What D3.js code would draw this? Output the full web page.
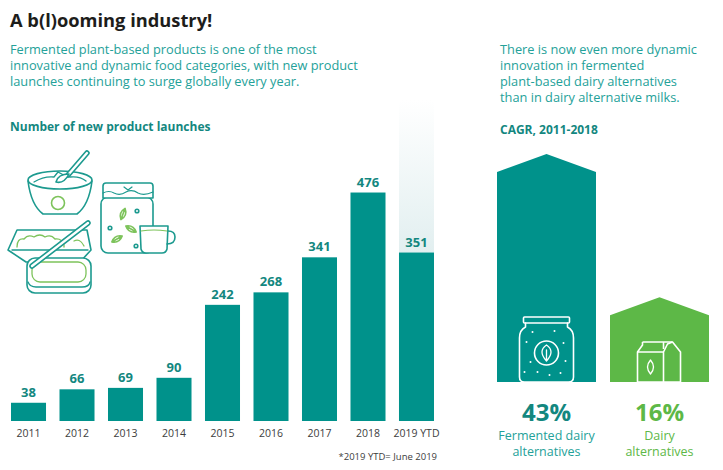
<!DOCTYPE html>
<html>
<head>
<meta charset="utf-8">
<script src="https://cdn.jsdelivr.net/npm/d3@7"></script>
<style>
  html, body { margin: 0; padding: 0; background: #fff; }
  svg { display: block; font-family: "Open Sans", sans-serif; }
</style>
</head>
<body>
<script>
// launches per year
const years = ["2011", "2012", "2013", "2014", "2015", "2016", "2017", "2018", "2019 YTD"];
const launches = [38, 66, 69, 90, 242, 268, 341, 476, 351];

// CAGR 2011-2018
const cagrLabels = [["Fermented dairy", "alternatives"], ["Dairy", "alternatives"]];
const cagrValues = [43, 16];

const introLines = [
    "Fermented plant-based products is one of the most",
    "innovative and dynamic food categories, with new product",
    "launches continuing to surge globally every year."
];
const sideLines = [
    "There is now even more dynamic",
    "innovation in fermented",
    "plant-based dairy alternatives",
    "than in dairy alternative milks."
];

const teal = "#00928b", tealText = "#24a199", tealDark = "#13877f";
const green = "#5db847", icon = "#1c9a8f", iconGreen = "#7dc35b";

const W = 723, H = 470;
let svg = d3.select("body").append("svg").attr("width", W).attr("height", H);

// headings
svg.append("text").attr("x", 10).attr("y", 27)
    .attr("font-size", 18.3).attr("font-weight", 700).attr("fill", "#1d1d1b")
    .text("A b(l)ooming industry!");

svg.append("g").selectAll("text")
    .data(introLines)
    .join("text")
      .attr("x", 10)
      .attr("y", (d, i) => 54 + i * 16)
      .attr("font-size", 12.8)
      .attr("fill", tealText)
      .text(d => d);

svg.append("text").attr("x", 10).attr("y", 131)
    .attr("font-size", 12).attr("font-weight", 700).attr("fill", tealDark)
    .text("Number of new product launches");

// ---- bar chart ----
let x = d3.scaleBand().domain(years).range([11, 434]).paddingInner(0.278).paddingOuter(0);
let y = d3.scaleLinear([0, 500], [421, 181]);

let defs = svg.append("defs");
let grad = defs.append("linearGradient").attr("id", "ytd").attr("x1", 0).attr("x2", 0).attr("y1", 0).attr("y2", 1);
grad.append("stop").attr("offset", "0%").attr("stop-color", "#ffffff");
grad.append("stop").attr("offset", "100%").attr("stop-color", "#e2eff0");

// ghost column behind the partial year
let last = years[years.length - 1];
svg.append("rect")
    .attr("x", x(last))
    .attr("width", x.bandwidth())
    .attr("y", 100)
    .attr("height", y(launches[launches.length - 1]) - 100)
    .attr("fill", "url(#ytd)");

svg.append("g")
    .attr("fill", teal)
  .selectAll("rect")
  .data(launches)
  .join("rect")
    .attr("x", (d, i) => x(years[i]))
    .attr("width", x.bandwidth())
    .attr("y", d => y(d))
    .attr("height", d => y(0) - y(d));

svg.append("g")
    .attr("font-size", 13).attr("font-weight", 700).attr("fill", tealDark)
    .attr("text-anchor", "middle")
  .selectAll("text")
  .data(launches)
  .join("text")
    .attr("x", (d, i) => x(years[i]) + x.bandwidth() / 2)
    .attr("y", d => y(d) - 6)
    .text(d => d);

let xAxis = svg.append("g")
    .attr("transform", `translate(0,${y(0)})`)
    .call(d3.axisBottom(x).tickSize(0).tickPadding(9));
xAxis.select(".domain").remove();
xAxis.selectAll("text").attr("font-size", 10.5).attr("fill", "#3d3d3d")
    .attr("font-family", "Open Sans, sans-serif");

svg.append("text").attr("x", 437).attr("y", 460)
    .attr("text-anchor", "end").attr("font-size", 9.5).attr("fill", "#3d3d3d")
    .text("*2019 YTD= June 2019");

// ---- food icons ----
let ic = svg.append("g").attr("fill", "none").attr("stroke", icon)
    .attr("stroke-width", 1.6).attr("stroke-linejoin", "round").attr("stroke-linecap", "round");

function thickLine(g, x1, y1, x2, y2, w) {
    g.append("line").attr("x1", x1).attr("y1", y1).attr("x2", x2).attr("y2", y2)
        .attr("stroke-width", w);
    g.append("line").attr("x1", x1).attr("y1", y1).attr("x2", x2).attr("y2", y2)
        .attr("stroke", "#fff").attr("stroke-width", w - 3.2);
}

// bowl
ic.append("path").attr("d", "M28,181 Q31,205 43,214 L77,214 Q89,205 92,181");
ic.append("ellipse").attr("cx", 60).attr("cy", 180).attr("rx", 32).attr("ry", 9).attr("fill", "#fff");
ic.append("path").attr("d", "M34,182 Q44,176 54,177 L58,172 Q64,176 70,177 Q80,176 86,181").attr("stroke-width", 1.3);
ic.append("circle").attr("cx", 58).attr("cy", 203).attr("r", 6.5).attr("stroke", iconGreen);
thickLine(ic, 87, 153, 68, 175, 5.5);
ic.append("path").attr("d", "M69,174 Q64,184 56,182 Q58,174 69,174 Z").attr("fill", "#fff");

// jar
ic.append("rect").attr("x", 101).attr("y", 197).attr("width", 52).attr("height", 56).attr("rx", 7).attr("fill", "#fff");
ic.append("path").attr("d", "M103,186 Q103,183 106,183 L150,183 Q153,183 153,186 L153,198 L103,198 Z").attr("fill", "#fff");
ic.append("path").attr("d", "M103,193 Q109,190 114,193 Q120,196 126,192 Q132,189 138,193 Q144,196 153,192").attr("stroke-width", 1.2);
ic.append("path").attr("d", "M124,187 L128,190 L132,187").attr("stroke-width", 1.2);
ic.append("g").attr("stroke", iconGreen).selectAll("path")
    .data([[123, 214, -70], [131, 229, 30], [117, 239, -30]])
    .join("path")
      .attr("d", "M-6,0 Q0,-5 6,0 Q0,5 -6,0 Z M-5,0 L5,0")
      .attr("transform", d => `translate(${d[0]},${d[1]}) rotate(${d[2]})`);
ic.append("g").selectAll("circle")
    .data([[137, 211], [110, 228], [136, 246]])
    .join("circle").attr("cx", d => d[0]).attr("cy", d => d[1]).attr("r", 1.8);

// cup
ic.append("path").attr("d", "M140,226 L141,249 Q142,253 146,253 L162,253 Q166,253 167,249 L168,226 Z").attr("fill", "#fff");
ic.append("path").attr("d", "M168,231 Q175,231 175,237 Q175,244 167,244");
ic.append("path").attr("d", "M141,231 Q154,229 167,231").attr("stroke", iconGreen).attr("stroke-width", 1.2);

// tray
ic.append("path").attr("d", "M17,230 L87,230 L91,250 L80,262 L26,262 L8,250 Z").attr("fill", "#fff");
ic.append("path").attr("d", "M12,250 L88,250").attr("stroke-width", 1.3);
ic.append("path").attr("d", "M17,247 Q17,238 24,239 Q28,234 34,237 Q40,233 45,237 Q51,234 55,239 Q62,238 64,245 L64,247")
    .attr("stroke", iconGreen).attr("stroke-width", 1.3);
ic.append("path").attr("d", "M74,241 Q80,238 84,246").attr("stroke", iconGreen).attr("stroke-width", 1.3);

// butter box
ic.append("rect").attr("x", 27).attr("y", 258).attr("width", 64).attr("height", 35).attr("rx", 8).attr("fill", "#fff");
ic.append("path").attr("d", "M28,282 Q30,287 36,287 L82,287 Q89,287 90,282").attr("stroke-width", 1.3);
ic.append("rect").attr("x", 32).attr("y", 262).attr("width", 54).attr("height", 20).attr("rx", 8).attr("stroke", iconGreen).attr("stroke-width", 1.3);
thickLine(ic, 88, 223, 32, 266, 5.5);

// ---- CAGR comparison ----
svg.append("g").selectAll("text")
    .data(sideLines)
    .join("text")
      .attr("x", 500)
      .attr("y", (d, i) => 54 + i * 16)
      .attr("font-size", 12.8)
      .attr("fill", tealText)
      .text(d => d);

svg.append("text").attr("x", 500).attr("y", 134)
    .attr("font-size", 12).attr("font-weight", 700).attr("fill", tealDark)
    .text("CAGR, 2011-2018");

let xc = d3.scaleBand().domain(cagrValues.map((d, i) => i)).range([497, 709]).paddingInner(0.124).paddingOuter(0);
let yc = d3.scaleLinear([0, 43], [382, 154]);
const roof = 18;
const cagrColors = [teal, green];

svg.append("g").selectAll("path")
    .data(cagrValues)
    .join("path")
      .attr("fill", (d, i) => cagrColors[i])
      .attr("d", (d, i) => {
          let x0 = xc(i), x1 = xc(i) + xc.bandwidth(), top = yc(d);
          return `M${x0},${yc(0)} L${x0},${top + roof} L${(x0 + x1) / 2},${top} L${x1},${top + roof} L${x1},${yc(0)} Z`;
      });

// jar icon (white)
let wj = svg.append("g").attr("fill", "none").attr("stroke", "#fff").attr("stroke-width", 1.6)
    .attr("stroke-linejoin", "round").attr("stroke-linecap", "round");
let cx0 = xc(0) + xc.bandwidth() / 2;
wj.append("rect").attr("x", cx0 - 23).attr("y", 317).attr("width", 46).attr("height", 6).attr("rx", 1);
wj.append("path").attr("d", `M${cx0 - 21},323 L${cx0 - 21},327 Q${cx0 - 27},330 ${cx0 - 27},338 L${cx0 - 27},377 Q${cx0 - 27},382 ${cx0 - 22},382 L${cx0 + 22},382 Q${cx0 + 27},382 ${cx0 + 27},377 L${cx0 + 27},338 Q${cx0 + 27},330 ${cx0 + 21},327 L${cx0 + 21},323`);
wj.append("circle").attr("cx", cx0).attr("cy", 353).attr("r", 12);
wj.append("path").attr("d", `M${cx0},345 Q${cx0 + 9},351 ${cx0},361 Q${cx0 - 9},351 ${cx0},345 Z M${cx0},350 L${cx0},361`).attr("stroke-width", 1.3);
wj.append("g").attr("fill", "#fff").attr("stroke", "none").selectAll("circle")
    .data([[-14, 332], [8, 331], [-20, 342], [17, 343], [-16, 362], [19, 361], [-9, 372], [3, 375], [14, 373], [-22, 372]])
    .join("circle").attr("cx", d => cx0 + d[0]).attr("cy", d => d[1]).attr("r", 1);

// carton icon (white)
let cx1 = xc(1) + xc.bandwidth() / 2;
let wc = svg.append("g").attr("fill", "none").attr("stroke", "#fff").attr("stroke-width", 1.6)
    .attr("stroke-linejoin", "round");
let c0 = cx1 - 22;
wc.append("path").attr("d", `M${c0 + 5},342 L${c0 + 26},342 L${c0 + 26},349 M${c0 + 5},342 L${c0 + 5},345 L${c0},352 L${c0},382 L${c0 + 43},382 L${c0 + 43},352 L${c0 + 35},342 L${c0 + 26},342`);
wc.append("path").attr("d", `M${c0},352 L${c0 + 26},352 L${c0 + 26},382 M${c0 + 26},352 L${c0 + 30},344 L${c0 + 35},342`);
wc.append("path").attr("d", `M${c0 + 13},360 Q${c0 + 19},367 ${c0 + 13},374 Q${c0 + 7},367 ${c0 + 13},360 Z`).attr("stroke-width", 1.3);

// big percentages and captions
let cap = svg.append("g").attr("text-anchor", "middle");
cap.selectAll("text.pct")
    .data(cagrValues)
    .join("text")
      .attr("class", "pct")
      .attr("x", (d, i) => xc(i) + xc.bandwidth() / 2)
      .attr("y", 421)
      .attr("font-size", 24).attr("font-weight", 700)
      .attr("fill", (d, i) => i ? green : tealDark)
      .text(d => d + "%");
cagrLabels.forEach((lines, i) => {
    cap.append("g").selectAll("text")
        .data(lines)
        .join("text")
          .attr("x", xc(i) + xc.bandwidth() / 2)
          .attr("y", (d, j) => 440 + j * 16)
          .attr("font-size", 12.5)
          .attr("fill", i ? green : tealText)
          .text(d => d);
});
</script>
</body>
</html>
